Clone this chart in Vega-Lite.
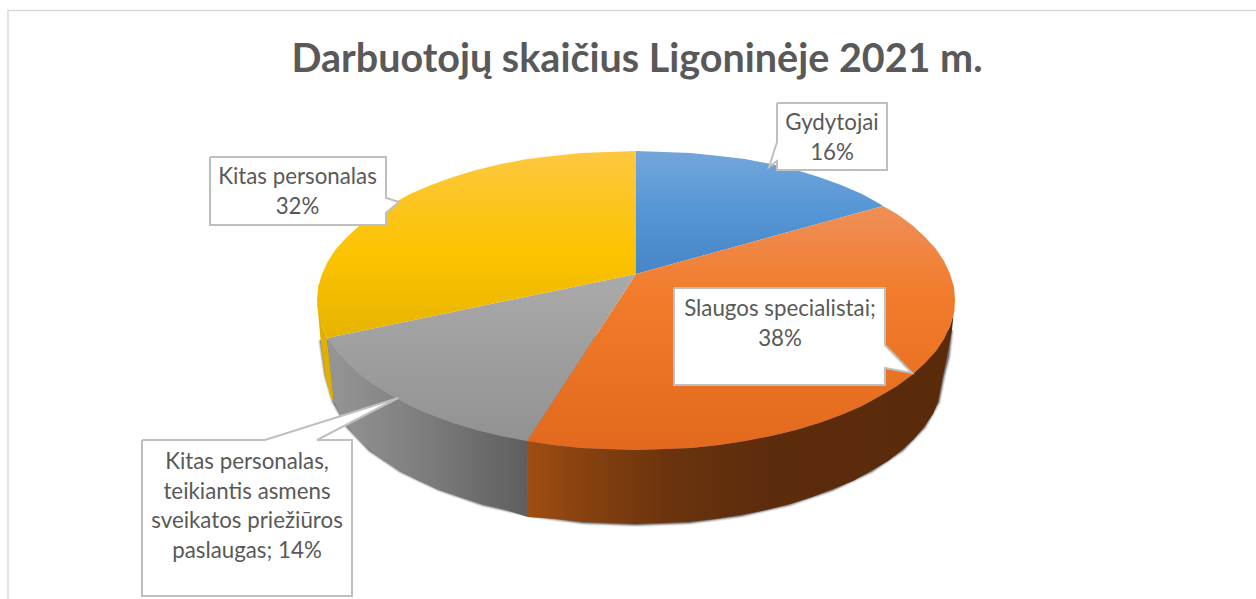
{"$schema":"https://vega.github.io/schema/vega-lite/v6.json","width":1256,"height":599,"padding":0,"autosize":{"type":"none"},"background":"white","title":{"text":"Darbuotojų skaičius Ligoninėje 2021 m.","font":"Lato","fontWeight":"bold","fontSize":39.5,"color":"#595959","anchor":"middle","frame":"group","offset":0,"dx":9,"dy":111,"baseline":"alphabetic"},"config":{"view":{"stroke":null}},"encoding":{"x":{"field":"x","type":"quantitative","axis":null,"scale":{"domain":[0,1256],"nice":false,"zero":false}},"y":{"field":"y","type":"quantitative","axis":null,"scale":{"domain":[599,0],"nice":false,"zero":false}},"order":{"field":"i","type":"quantitative"}},"datasets":{"frame":[{"i":0,"x":8,"y":599},{"i":1,"x":8,"y":10.5},{"i":2,"x":1256,"y":10.5}],"shadow":[{"i":0,"x":951,"y":330},{"i":1,"x":948,"y":357},{"i":2,"x":943,"y":376},{"i":3,"x":938,"y":402},{"i":4,"x":924,"y":427},{"i":5,"x":902,"y":450},{"i":6,"x":871,"y":471},{"i":7,"x":833,"y":489},{"i":8,"x":789,"y":504},{"i":9,"x":741,"y":515},{"i":10,"x":689,"y":522},{"i":11,"x":636,"y":524},{"i":12,"x":583,"y":522},{"i":13,"x":531,"y":515},{"i":14,"x":483,"y":504},{"i":15,"x":439,"y":489},{"i":16,"x":401,"y":471},{"i":17,"x":370,"y":450},{"i":18,"x":348,"y":427},{"i":19,"x":334,"y":402},{"i":20,"x":326,"y":375},{"i":21,"x":321,"y":340}],"sideYellow":[{"i":0,"x":317,"y":300},{"i":1,"x":322,"y":326},{"i":2,"x":327,"y":338},{"i":3,"x":334,"y":403},{"i":4,"x":330,"y":395},{"i":5,"x":325,"y":375},{"i":6,"x":321,"y":345}],"sideGray":[{"i":0,"x":327,"y":338},{"i":1,"x":328,"y":339},{"i":2,"x":336,"y":351},{"i":3,"x":347,"y":363},{"i":4,"x":360,"y":375},{"i":5,"x":375,"y":386},{"i":6,"x":392,"y":396},{"i":7,"x":410,"y":406},{"i":8,"x":431,"y":415},{"i":9,"x":453,"y":423},{"i":10,"x":476,"y":430},{"i":11,"x":501,"y":436},{"i":12,"x":527,"y":441},{"i":13,"x":528,"y":517},{"i":14,"x":506,"y":510},{"i":15,"x":483,"y":504},{"i":16,"x":460,"y":497},{"i":17,"x":439,"y":489},{"i":18,"x":419,"y":481},{"i":19,"x":401,"y":471},{"i":20,"x":384,"y":461},{"i":21,"x":370,"y":450},{"i":22,"x":358,"y":439},{"i":23,"x":348,"y":427},{"i":24,"x":340,"y":414},{"i":25,"x":334,"y":402}],"sideOrange":[{"i":0,"x":955,"y":300},{"i":1,"x":954,"y":313},{"i":2,"x":950,"y":326},{"i":3,"x":944,"y":339},{"i":4,"x":936,"y":351},{"i":5,"x":925,"y":363},{"i":6,"x":912,"y":375},{"i":7,"x":897,"y":386},{"i":8,"x":880,"y":396},{"i":9,"x":862,"y":406},{"i":10,"x":841,"y":415},{"i":11,"x":819,"y":423},{"i":12,"x":796,"y":430},{"i":13,"x":771,"y":436},{"i":14,"x":745,"y":441},{"i":15,"x":719,"y":445},{"i":16,"x":691,"y":448},{"i":17,"x":664,"y":449},{"i":18,"x":636,"y":450},{"i":19,"x":608,"y":449},{"i":20,"x":581,"y":448},{"i":21,"x":553,"y":445},{"i":22,"x":527,"y":441},{"i":23,"x":528,"y":517},{"i":24,"x":557,"y":519},{"i":25,"x":583,"y":522},{"i":26,"x":609,"y":523},{"i":27,"x":636,"y":524},{"i":28,"x":663,"y":523},{"i":29,"x":689,"y":522},{"i":30,"x":715,"y":519},{"i":31,"x":741,"y":515},{"i":32,"x":766,"y":510},{"i":33,"x":790,"y":504},{"i":34,"x":812,"y":497},{"i":35,"x":833,"y":489},{"i":36,"x":853,"y":481},{"i":37,"x":871,"y":471},{"i":38,"x":888,"y":461},{"i":39,"x":902,"y":450},{"i":40,"x":914,"y":439},{"i":41,"x":924,"y":427},{"i":42,"x":933,"y":414},{"i":43,"x":938,"y":402},{"i":44,"x":943,"y":376},{"i":45,"x":947,"y":357},{"i":46,"x":952,"y":330}],"topBlue":[{"i":0,"x":636,"y":274},{"i":1,"x":636,"y":151},{"i":2,"x":664,"y":152},{"i":3,"x":691,"y":153},{"i":4,"x":719,"y":156},{"i":5,"x":745,"y":159},{"i":6,"x":771,"y":164},{"i":7,"x":796,"y":170},{"i":8,"x":819,"y":177},{"i":9,"x":841,"y":185},{"i":10,"x":862,"y":194},{"i":11,"x":880,"y":204},{"i":12,"x":883,"y":206}],"topOrange":[{"i":0,"x":636,"y":274},{"i":1,"x":883,"y":206},{"i":2,"x":897,"y":214},{"i":3,"x":912,"y":225},{"i":4,"x":925,"y":237},{"i":5,"x":936,"y":249},{"i":6,"x":944,"y":261},{"i":7,"x":950,"y":274},{"i":8,"x":954,"y":287},{"i":9,"x":955,"y":300},{"i":10,"x":954,"y":313},{"i":11,"x":950,"y":326},{"i":12,"x":944,"y":339},{"i":13,"x":936,"y":351},{"i":14,"x":925,"y":363},{"i":15,"x":912,"y":375},{"i":16,"x":897,"y":386},{"i":17,"x":880,"y":396},{"i":18,"x":862,"y":406},{"i":19,"x":841,"y":415},{"i":20,"x":819,"y":423},{"i":21,"x":796,"y":430},{"i":22,"x":771,"y":436},{"i":23,"x":745,"y":441},{"i":24,"x":719,"y":445},{"i":25,"x":691,"y":448},{"i":26,"x":664,"y":449},{"i":27,"x":636,"y":450},{"i":28,"x":608,"y":449},{"i":29,"x":581,"y":448},{"i":30,"x":553,"y":445},{"i":31,"x":527,"y":441}],"topGray":[{"i":0,"x":636,"y":274},{"i":1,"x":527,"y":441},{"i":2,"x":501,"y":436},{"i":3,"x":476,"y":430},{"i":4,"x":453,"y":423},{"i":5,"x":431,"y":415},{"i":6,"x":410,"y":406},{"i":7,"x":392,"y":396},{"i":8,"x":375,"y":386},{"i":9,"x":360,"y":375},{"i":10,"x":347,"y":363},{"i":11,"x":336,"y":351},{"i":12,"x":328,"y":339},{"i":13,"x":327,"y":338}],"topYellow":[{"i":0,"x":636,"y":274},{"i":1,"x":327,"y":338},{"i":2,"x":322,"y":326},{"i":3,"x":318,"y":313},{"i":4,"x":317,"y":300},{"i":5,"x":318,"y":287},{"i":6,"x":322,"y":274},{"i":7,"x":328,"y":261},{"i":8,"x":336,"y":249},{"i":9,"x":347,"y":237},{"i":10,"x":360,"y":225},{"i":11,"x":375,"y":214},{"i":12,"x":392,"y":204},{"i":13,"x":410,"y":194},{"i":14,"x":431,"y":185},{"i":15,"x":453,"y":177},{"i":16,"x":476,"y":170},{"i":17,"x":501,"y":164},{"i":18,"x":527,"y":159},{"i":19,"x":553,"y":156},{"i":20,"x":581,"y":153},{"i":21,"x":608,"y":152},{"i":22,"x":636,"y":151}],"calloutBlue":[{"i":0,"x":777,"y":103},{"i":1,"x":887,"y":103},{"i":2,"x":887,"y":170},{"i":3,"x":777,"y":170},{"i":4,"x":777,"y":161},{"i":5,"x":769,"y":167},{"i":6,"x":777,"y":142},{"i":7,"x":777,"y":103}],"calloutYellow":[{"i":0,"x":210,"y":157},{"i":1,"x":386,"y":157},{"i":2,"x":386,"y":198},{"i":3,"x":399,"y":202},{"i":4,"x":386,"y":213},{"i":5,"x":386,"y":225},{"i":6,"x":210,"y":225},{"i":7,"x":210,"y":157}],"calloutOrange":[{"i":0,"x":674,"y":288},{"i":1,"x":885,"y":288},{"i":2,"x":885,"y":345},{"i":3,"x":912,"y":373},{"i":4,"x":885,"y":368},{"i":5,"x":885,"y":385},{"i":6,"x":674,"y":385},{"i":7,"x":674,"y":288}],"calloutGray":[{"i":0,"x":142,"y":440},{"i":1,"x":265,"y":440},{"i":2,"x":398,"y":398},{"i":3,"x":317,"y":440},{"i":4,"x":352,"y":440},{"i":5,"x":352,"y":596},{"i":6,"x":142,"y":596},{"i":7,"x":142,"y":440}],"labels":[{"i":0,"category":"Gydytojai","share":16,"label":"Gydytojai\n16%","x":832,"y":123},{"i":1,"category":"Slaugos specialistai","share":38,"label":"Slaugos specialistai;\n38%","x":780,"y":309},{"i":2,"category":"Kitas personalas, teikiantis asmens sveikatos priežiūros paslaugas","share":14,"label":"Kitas personalas,\nteikiantis asmens\nsveikatos priežiūros\npaslaugas; 14%","x":247,"y":462},{"i":3,"category":"Kitas personalas","share":32,"label":"Kitas personalas\n32%","x":297.5,"y":177}]},"layer":[{"data":{"name":"frame"},"mark":{"type":"line","stroke":"#d9d9d9","strokeWidth":1.5}},{"data":{"name":"shadow"},"mark":{"type":"line","fill":"#333333","stroke":"#333333","strokeWidth":6,"opacity":0.12}},{"data":{"name":"shadow"},"mark":{"type":"line","fill":"#333333","stroke":"#333333","strokeWidth":4,"opacity":0.25}},{"data":{"name":"shadow"},"mark":{"type":"line","fill":"#333333","stroke":"#333333","strokeWidth":2,"opacity":0.5}},{"data":{"name":"sideYellow"},"mark":{"type":"line","fill":"#e0b000","strokeWidth":0}},{"data":{"name":"sideGray"},"mark":{"type":"line","strokeWidth":0,"fill":{"gradient":"linear","x1":0,"y1":0,"x2":1,"y2":0,"stops":[{"offset":0,"color":"#969696"},{"offset":0.5,"color":"#7c7c7c"},{"offset":1,"color":"#5e5e5e"}]}}},{"data":{"name":"sideOrange"},"mark":{"type":"line","strokeWidth":0,"fill":{"gradient":"linear","x1":0,"y1":0,"x2":1,"y2":0,"stops":[{"offset":0,"color":"#a04e12"},{"offset":0.14,"color":"#86400f"},{"offset":0.33,"color":"#6b340e"},{"offset":0.55,"color":"#5c2c0c"},{"offset":1,"color":"#5a2b0b"}]}}},{"data":{"name":"topBlue"},"mark":{"type":"line","strokeWidth":0,"fill":{"gradient":"linear","x1":0,"y1":0,"x2":0,"y2":1,"stops":[{"offset":0,"color":"#74a6da"},{"offset":0.45,"color":"#5797d6"},{"offset":1,"color":"#4785c6"}]}}},{"data":{"name":"topOrange"},"mark":{"type":"line","strokeWidth":0,"fill":{"gradient":"linear","x1":0,"y1":0,"x2":0,"y2":1,"stops":[{"offset":0,"color":"#ee8f58"},{"offset":0.35,"color":"#f27c2c"},{"offset":1,"color":"#e2691d"}]}}},{"data":{"name":"topGray"},"mark":{"type":"line","strokeWidth":0,"fill":{"gradient":"linear","x1":0,"y1":0,"x2":0,"y2":1,"stops":[{"offset":0,"color":"#aaaaaa"},{"offset":1,"color":"#929292"}]}}},{"data":{"name":"topYellow"},"mark":{"type":"line","strokeWidth":0,"fill":{"gradient":"linear","x1":0,"y1":0,"x2":0,"y2":1,"stops":[{"offset":0,"color":"#fcc840"},{"offset":0.55,"color":"#fcc300"},{"offset":1,"color":"#e6b400"}]}}},{"data":{"name":"calloutBlue"},"mark":{"type":"line","fill":"white","stroke":"#bfbfbf","strokeWidth":2}},{"data":{"name":"calloutYellow"},"mark":{"type":"line","fill":"white","stroke":"#bfbfbf","strokeWidth":2}},{"data":{"name":"calloutOrange"},"mark":{"type":"line","fill":"white","stroke":"#bfbfbf","strokeWidth":2}},{"data":{"name":"calloutGray"},"mark":{"type":"line","fill":"white","stroke":"#bfbfbf","strokeWidth":2}},{"data":{"name":"labels"},"mark":{"type":"text","font":"Lato","fontSize":22.3,"color":"#595959","lineBreak":"\n","lineHeight":29.5,"align":"center","baseline":"middle"},"encoding":{"text":{"field":"label","type":"nominal"}}}]}
